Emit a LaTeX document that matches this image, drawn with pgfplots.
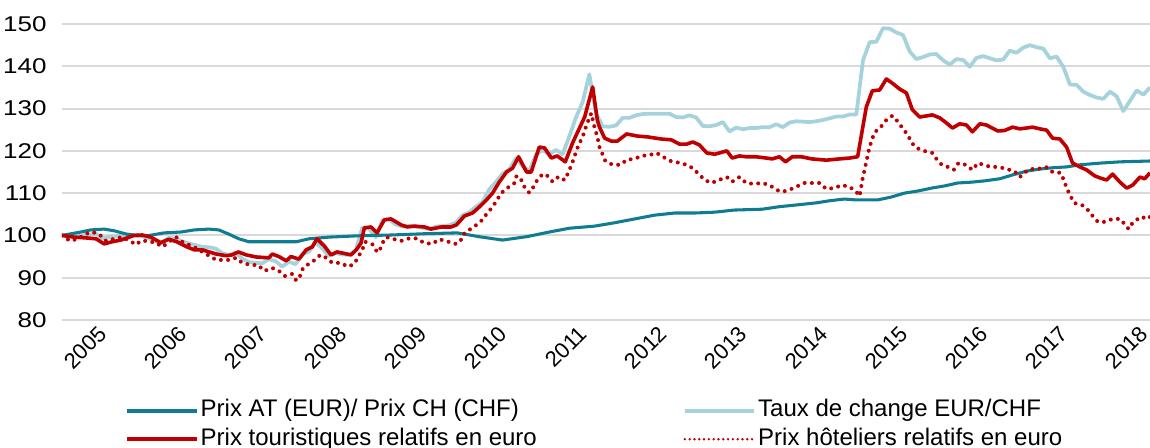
\documentclass[border=0pt]{standalone}
\usepackage{pgfplots}
\pgfplotsset{compat=1.18}
\usepackage{fontspec}
\setmainfont{Liberation Sans}
\usetikzlibrary{calc}
\definecolor{cteal}{RGB}{16,124,145}
\definecolor{clblue}{RGB}{166,210,220}
\definecolor{cred}{RGB}{192,0,0}
\definecolor{cgrid}{RGB}{217,217,217}
\begin{document}
\begin{tikzpicture}
\begin{axis}[
  name=ax,
  scale only axis,
  width=816pt, height=222pt,
  xmin=0, xmax=163, ymin=80, ymax=150,
  axis line style={draw=none},
  major tick length=0pt,
  ymajorgrids, major grid style={draw=cgrid, line width=1.5pt},
  ytick={80,90,...,150},
  xtick={4.6,16.6,28.6,40.6,52.6,64.6,76.6,88.6,100.6,112.6,124.6,136.6,148.6,160.6},
  xticklabels={2005,2006,2007,2008,2009,2010,2011,2012,2013,2014,2015,2016,2017,2018},
  /pgf/number format/assume math mode=true,
  yticklabel style={font=\fontsize{16}{19}\selectfont, xscale=1.22, xshift=-6pt},
  xticklabel style={font=\fontsize{16.5}{19}\selectfont, rotate=45, anchor=north east, inner sep=0pt, yshift=-4.5pt},
  legend columns=2,
  legend cell align=left,
  legend style={at={(axis description cs:0.058,-0.26)}, anchor=north west, draw=none, fill=none,
    inner sep=0pt, font=\fontsize{18}{21}\selectfont,
    nodes={inner sep=1.5pt, text height=13pt, text depth=4pt},
    row sep=1.5pt,
    /tikz/every even column/.append style={column sep=108pt}},
  legend image code/.code={\draw[#1] (0pt,0pt) -- (52pt,0pt);},
]
% Taux de change EUR/CHF
\addplot[forget plot, clblue, line width=2.8pt, line join=round] table {
x y
0 100.0
1 99.8
2 99.8
3 100.0
4 100.1
5 100.5
6 99.3
7 99.6
8 99.8
9 100.1
10 100.2
11 99.9
12 99.8
13 99.3
14 98.6
15 98.2
16 99.4
17 99.2
18 98.6
19 98.1
20 97.7
21 97.3
22 97.2
23 96.9
24 95.8
25 95.4
26 95.9
27 94.5
28 93.7
29 93.5
30 93.4
31 94.4
32 93.9
33 92.6
34 93.8
35 93.2
36 95.5
37 96.2
38 98.4
39 96.9
40 95.2
41 95.8
42 95.5
43 95.4
44 96.5
45 101.9
46 101.6
47 99.6
48 103.6
49 103.8
50 102.6
51 102.1
52 102.3
53 102.1
54 101.8
55 101.5
56 102.1
57 102.2
58 102.4
59 103.0
60 104.8
61 105.4
62 106.8
63 107.9
64 110.9
65 112.6
66 114.6
67 115.6
68 118.2
69 116.4
70 115.2
71 119.1
72 120.2
73 119.2
74 120.2
75 119.2
76 123.4
77 127.9
78 131.5
79 138.1
80 128.9
81 125.8
82 125.7
83 126.0
84 127.8
85 127.8
86 128.4
87 128.7
88 128.8
89 128.8
90 128.8
91 128.8
92 128.0
93 127.9
94 128.4
95 127.9
96 125.9
97 125.8
98 126.1
99 126.8
100 124.6
101 125.5
102 125.1
103 125.4
104 125.4
105 125.6
106 125.6
107 126.3
108 125.6
109 126.7
110 127.0
111 126.9
112 126.8
113 127.0
114 127.3
115 127.7
116 128.1
117 128.1
118 128.6
119 128.6
120 141.4
121 145.7
122 145.8
123 149.0
124 148.9
125 148.0
126 147.4
127 143.5
128 141.7
129 142.2
130 142.8
131 142.9
132 141.4
133 140.4
134 141.7
135 141.5
136 139.9
137 142.0
138 142.4
139 141.9
140 141.4
141 141.6
142 143.7
143 143.2
144 144.4
145 145.0
146 144.5
147 144.2
148 141.9
149 142.3
150 139.9
151 135.7
152 135.6
153 134.0
154 133.2
155 132.6
156 132.3
157 134.0
158 132.9
159 129.4
160 131.8
161 134.3
162 133.3
163 135.0
};
% Prix AT (EUR)/ Prix CH (CHF)
\addplot[forget plot, cteal, line width=2.3pt, line join=round] table {
x y
0 100.0
2.8 100.8
4.3 101.3
6.3 101.5
7.8 101.1
9.7 100.3
10.8 100.1
12.7 99.9
15.3 100.6
17.8 100.8
19.8 101.3
22.0 101.5
23.5 101.3
25.0 100.3
26.5 99.2
28.0 98.5
31.5 98.5
35.1 98.5
37.0 99.2
40.0 99.6
44.2 99.9
49.3 100.1
54.3 100.4
59.2 100.6
62.5 99.7
66.0 98.9
69.6 99.7
73.0 100.8
76.0 101.7
79.8 102.2
82.8 103.0
85.8 103.9
88.8 104.8
91.8 105.3
94.8 105.3
97.8 105.5
100.7 106.0
104.9 106.2
107.5 106.8
110.0 107.2
113.0 107.7
115.0 108.2
117.2 108.6
119.0 108.4
122.2 108.4
124.3 109.1
126.2 110.0
128.2 110.5
130.3 111.2
132.2 111.7
134.2 112.4
136.3 112.6
138.2 112.9
140.5 113.4
142.4 114.3
144.5 115.2
146.5 115.7
148.4 116.0
150.5 116.2
152.5 116.7
155.5 117.1
158.5 117.4
163.0 117.6
};
% Prix touristiques relatifs en euro
\addplot[forget plot, cred, line width=2.7pt, line join=round] table {
x y
0 100.0
1.8 99.6
3.7 99.4
5.1 99.2
6.3 98.0
7.5 98.5
8.8 98.9
10.8 100.0
12.0 100.1
13.3 99.6
14.8 98.3
16.0 99.1
17.2 98.5
18.7 97.3
19.8 96.6
21.0 96.6
23.1 95.6
24.6 95.2
25.5 95.4
26.4 96.1
27.6 95.4
29.1 94.9
31.0 94.7
31.5 95.6
32.5 95.0
33.6 94.0
34.3 95.0
35.5 94.4
36.6 96.6
37.5 97.3
38.2 99.2
39.3 97.5
40.3 95.4
41.2 96.1
43.3 95.4
44.1 96.6
44.8 98.2
45.3 101.8
46.3 102.0
47.2 100.6
48.3 103.7
49.3 103.9
50.8 102.5
51.7 102.0
52.8 102.2
54.3 102.0
55.3 101.5
56.8 102.0
58.3 102.0
59.1 102.5
60.3 104.6
61.5 105.3
62.5 106.7
63.6 108.4
64.5 110.0
65.5 112.6
66.6 115.0
67.5 115.9
68.4 118.6
69.6 115.0
70.3 115.0
71.5 120.9
72.3 120.7
73.3 118.3
74.2 118.8
75.4 117.4
76.5 121.9
78.3 128.0
79.5 135.1
80.2 127.3
80.5 125.7
81.3 123.0
82.3 122.3
83.2 122.3
84.6 124.0
86.2 123.5
87.7 123.3
89.8 122.8
91.3 122.6
92.5 121.6
93.6 121.6
94.5 122.1
95.5 121.4
96.6 119.5
97.8 119.2
99.6 120.0
100.4 118.3
101.5 118.8
102.5 118.6
104.0 118.6
105.5 118.3
106.4 118.1
107.5 118.6
108.4 117.4
109.4 118.6
110.8 118.6
112.3 118.1
114.5 117.8
116.5 118.1
118.0 118.3
119.2 118.6
120.5 130.4
121.4 134.2
122.5 134.4
123.5 137.0
124.4 136.0
125.5 134.6
126.5 133.7
127.4 129.7
128.5 128.0
130.4 128.5
131.5 127.8
132.5 126.6
133.4 125.4
134.5 126.4
135.5 126.1
136.4 124.5
137.5 126.4
138.5 126.1
140.2 124.7
141.2 124.8
142.4 125.6
143.5 125.2
144.5 125.4
145.4 125.6
146.5 125.2
147.5 124.9
148.4 123.0
149.5 122.8
150.5 120.9
151.4 117.1
152.5 116.2
153.5 115.5
154.7 114.1
155.5 113.6
156.5 113.1
157.4 114.5
158.5 112.6
159.5 111.2
160.4 111.9
161.5 113.8
162.2 113.4
163.0 114.8
};
% Prix hoteliers relatifs en euro
\addplot[forget plot, cred, line width=3pt, line cap=round, dash pattern=on 0pt off 5.4pt] table {
x y
0 100.0
1.2 98.7
2.4 99.2
3.6 100.4
4.6 100.8
5.7 100.1
6.6 98.7
7.6 99.1
9.0 99.6
10.0 98.9
11.1 97.8
11.8 98.7
12.9 98.7
14.1 98.2
15.1 97.3
16.0 98.5
17.1 99.6
18.0 98.5
20.1 97.0
23.1 94.2
25.0 94.2
26.1 94.7
27.0 93.5
28.3 93.0
29.4 93.0
30.3 91.6
31.5 92.3
32.5 91.6
33.4 90.4
34.5 90.9
35.1 89.3
35.8 90.7
36.1 92.3
37.0 93.3
37.9 94.2
38.7 95.4
39.6 94.7
40.5 93.5
41.7 93.5
42.9 92.6
43.8 93.3
44.4 95.0
45.0 96.6
45.4 98.5
46.5 97.9
47.2 96.1
47.5 96.1
48.0 98.2
48.6 99.6
49.8 99.1
50.8 98.7
52.0 99.3
53.1 99.3
54.3 98.2
55.5 98.0
56.5 99.1
57.7 98.6
58.9 98.0
59.7 98.6
60.0 100.1
61.0 101.3
62.1 102.5
63.0 103.7
63.7 105.3
64.5 106.7
65.8 110.0
66.7 111.2
67.8 112.4
68.1 114.1
68.8 113.1
69.3 111.4
70.0 110.1
70.6 111.4
71.2 113.1
72.0 114.5
72.6 114.3
73.5 112.7
74.4 113.9
75.3 113.1
75.9 115.0
76.5 117.4
77.2 120.6
78.1 123.8
78.7 126.6
79.3 128.9
79.8 125.4
80.2 123.4
80.5 121.0
81.4 117.6
82.5 116.7
83.7 116.7
84.6 117.9
85.8 118.1
86.8 118.8
88.0 119.0
89.1 119.5
90.0 118.6
91.2 117.6
92.4 117.2
93.6 116.7
94.5 115.9
95.4 114.5
96.3 113.1
97.3 112.4
98.4 113.1
99.6 113.8
100.4 112.7
101.5 113.8
102.5 112.4
103.6 112.2
104.9 112.4
106.0 111.9
107.0 110.8
107.9 110.3
109.0 110.8
110.0 111.5
111.2 112.4
112.4 112.4
113.5 112.4
114.5 111.0
115.7 111.2
116.8 111.9
118.0 111.5
119.0 110.3
119.5 109.3
119.9 113.1
120.4 116.7
121.0 121.0
121.7 124.3
122.8 125.9
123.5 127.3
124.4 128.3
125.3 126.8
125.9 125.4
126.7 123.8
127.3 121.9
128.0 120.7
129.1 120.0
130.4 119.5
131.0 118.1
131.8 116.7
132.7 116.2
133.6 115.5
134.3 117.1
135.4 116.7
136.4 115.5
137.2 117.1
138.1 116.7
139.1 116.2
140.3 116.2
141.5 115.7
142.7 115.2
143.5 113.8
144.1 114.8
145.1 115.7
146.2 115.7
147.4 116.2
148.4 115.0
149.6 114.8
150.1 113.1
150.5 111.2
151.1 109.3
151.6 107.7
152.8 107.2
153.7 106.0
154.4 104.6
155.2 103.2
156.2 103.2
157.4 103.9
158.5 103.9
159.3 102.5
159.8 101.5
160.4 103.0
161.6 104.4
162.7 103.9
163.0 104.4
};
\addlegendimage{cteal, line width=3pt}
\addlegendentry{Prix AT (EUR)/ Prix CH (CHF)}
\addlegendimage{clblue, line width=3pt}
\addlegendentry{Taux de change EUR/CHF}
\addlegendimage{cred, line width=3pt}
\addlegendentry{Prix touristiques relatifs en euro}
\addlegendimage{cred, line width=2pt, line cap=round, dash pattern=on 0pt off 3.6pt}
\addlegendentry{Prix hôteliers relatifs en euro}
\end{axis}
\path (ax.south west) ++(-46.5pt,-96pt) coordinate (bbA);
\path (ax.north east) ++(0pt,18pt) coordinate (bbB);
\pgfresetboundingbox
\useasboundingbox (bbA) rectangle (bbB);
\end{tikzpicture}
\end{document}
